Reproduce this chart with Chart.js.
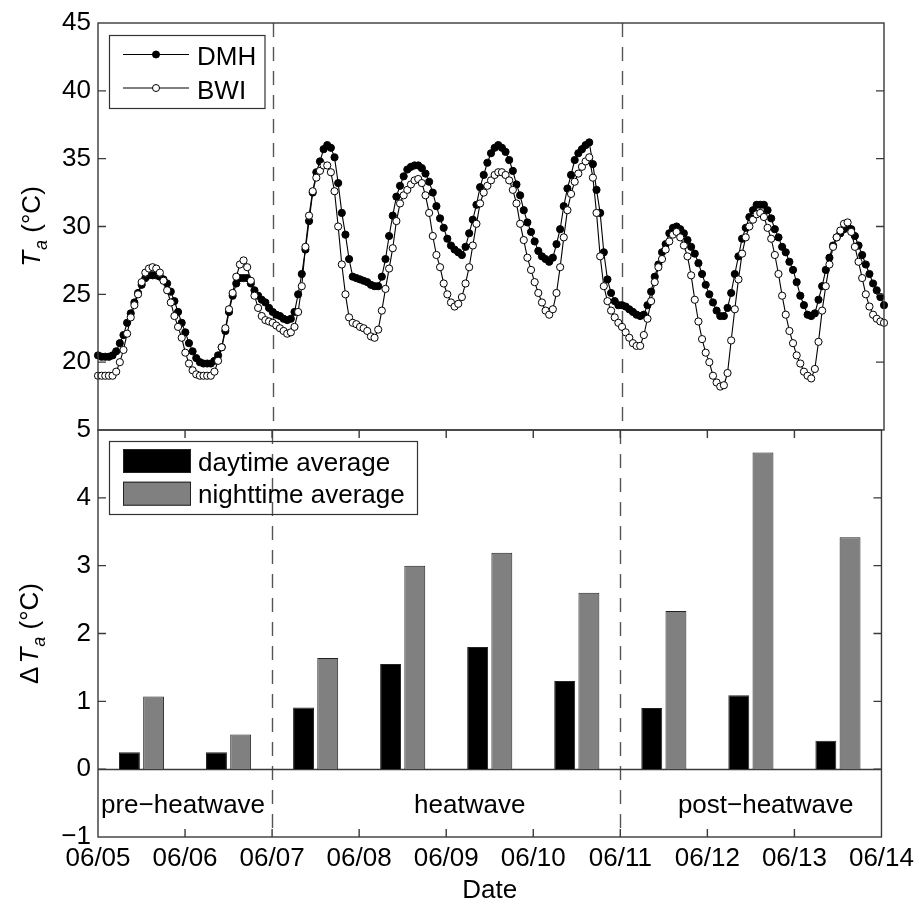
<!DOCTYPE html>
<html><head><meta charset="utf-8">
<script src="https://cdn.jsdelivr.net/npm/chart.js@4.4.1/dist/chart.umd.min.js"></script>
<style>
html,body{margin:0;padding:0;background:#fff;}
#wrap{position:relative;width:920px;height:899px;overflow:hidden;background:#fff;}
#bot{position:absolute;left:0;top:400px;}
#top{position:absolute;left:0;top:0;}
</style></head><body>
<div id="wrap">
<canvas id="bot" width="920" height="499"></canvas>
<canvas id="top" width="920" height="470"></canvas>
</div>
<script>
// ---------------- data ----------------
const tickLabels = ['06/05','06/06','06/07','06/08','06/09','06/10','06/11','06/12','06/13','06/14'];
const days = ['06/05','06/06','06/07','06/08','06/09','06/10','06/11','06/12','06/13'];
// hourly air temperature (°C), 06/05 00:00 .. 06/14 00:00
const dmh = [
 20.5,20.4,20.4,20.4,20.5,20.8,21.4,22.0,22.9,23.6,24.4,25.1,25.7,26.2,26.4,26.4,26.4,26.3,26.1,25.8,25.2,24.5,23.7,22.9,
 22.2,21.4,20.8,20.3,20.0,19.9,19.9,19.9,20.1,20.5,21.1,22.3,23.7,24.9,25.8,26.2,26.2,26.2,25.8,25.3,24.9,24.6,24.4,24.0,
 23.7,23.5,23.4,23.2,23.1,23.2,23.7,25.0,26.5,28.3,30.4,32.5,34.0,34.8,35.7,36.0,35.8,35.1,33.2,31.0,29.4,27.6,26.3,26.2,
 26.1,26.0,25.9,25.7,25.6,25.6,26.3,27.6,29.3,30.8,32.2,33.0,33.7,34.2,34.4,34.5,34.5,34.3,33.9,33.3,32.5,31.5,30.6,29.9,
 29.1,28.6,28.3,28.1,27.9,28.5,29.5,30.5,31.6,32.9,33.8,34.7,35.4,35.8,36.0,35.8,35.5,34.9,34.1,33.1,32.3,31.2,30.3,29.6,
 28.9,28.2,27.8,27.6,27.4,27.7,28.7,29.8,31.5,32.8,33.8,34.9,35.4,35.7,36.0,36.2,34.6,32.7,31.0,28.1,26.1,25.1,24.5,24.2,
 24.2,24.1,23.9,23.7,23.5,23.4,23.5,24.2,25.2,26.3,27.2,28.1,28.7,29.5,29.9,30.0,29.8,29.5,29.0,28.5,28.0,27.3,26.5,25.7,
 25.0,24.4,23.8,23.4,23.4,24.0,25.1,26.5,27.8,29.1,29.9,30.7,31.2,31.6,31.6,31.6,31.2,30.6,29.8,29.2,28.5,28.1,27.4,26.8,
 25.9,24.9,24.2,23.5,23.4,23.6,24.6,25.6,26.8,27.7,28.6,29.2,29.5,29.8,30.0,29.8,29.3,28.6,27.9,27.2,26.5,25.8,25.3,24.8,
 24.2
];
const bwi = [
 19.0,19.0,19.0,19.0,19.0,19.3,20.0,20.9,22.1,23.3,24.2,25.0,25.9,26.6,26.9,27.0,26.9,26.6,26.0,25.3,24.4,23.4,22.6,21.8,
 20.7,19.9,19.4,19.1,19.0,19.0,19.0,19.0,19.3,20.1,21.1,22.5,23.9,25.1,26.3,27.2,27.5,27.0,26.0,24.9,24.0,23.4,23.1,23.0,
 22.9,22.7,22.5,22.3,22.1,22.2,22.6,23.7,25.6,28.5,30.8,32.6,33.6,34.1,34.5,34.5,34.0,32.6,30.0,27.2,25.0,23.3,22.9,22.8,
 22.6,22.5,22.3,21.9,21.8,22.4,23.8,25.4,26.9,28.4,30.4,31.7,32.3,32.7,33.1,33.4,33.5,33.2,32.3,31.0,29.3,27.9,27.0,25.8,
 25.0,24.4,24.1,24.3,24.8,25.8,27.0,28.6,30.2,31.7,32.5,33.0,33.4,33.8,34.0,34.0,33.8,33.4,32.7,31.7,30.2,29.0,27.7,26.8,
 25.9,25.1,24.4,23.8,23.5,23.9,25.1,27.0,29.2,31.2,32.4,33.3,33.9,34.4,34.8,35.1,33.6,31.0,27.8,25.6,24.5,23.8,23.3,22.9,
 22.6,22.2,21.8,21.4,21.2,21.2,22.0,23.2,24.5,25.9,27.0,27.6,28.3,28.9,29.4,29.6,29.2,28.6,27.8,26.4,24.6,23.0,21.7,20.7,
 20.0,19.0,18.5,18.2,18.3,19.2,21.6,23.9,26.1,28.0,29.2,30.0,30.5,30.9,31.0,30.7,29.9,29.1,27.9,26.5,24.9,23.5,22.3,21.4,
 20.5,19.9,19.3,19.0,18.8,19.5,21.5,23.8,25.6,27.2,28.5,29.2,29.7,30.2,30.3,29.6,28.5,27.4,26.2,25.0,24.1,23.5,23.2,23.0,
 22.9
];
// DMH - BWI difference averages (°C)
const daytime   = [0.25,0.25,0.91,1.55,1.80,1.30,0.90,1.09,0.42];
const nighttime = [1.07,0.51,1.64,3.00,3.19,2.60,2.33,4.67,3.42];
const periodNames = ['pre\u2212heatwave','heatwave','post\u2212heatwave'];
const periodBreaks = [2, 6];          // day index of 06/07 and 06/11
const topTicksY = [15,20,25,30,35,40,45];
const botTicksY = [-1,0,1,2,3,4,5];

// ---------------- style ----------------
const FONT = "'Liberation Sans', Arial, Helvetica, sans-serif";
const FS = 26;
const AXIS = '#3a3a3a';
const hoursPerDay = 24;

function drawFrame(chart, xTicks) {
  const ctx = chart.ctx;
  const {left, right, top, bottom} = chart.chartArea;
  const xs = chart.scales.x, ys = chart.scales.y;
  const TL = 8;
  ctx.save();
  ctx.strokeStyle = AXIS; ctx.lineWidth = 1.4;
  ctx.strokeRect(left, top, right - left, bottom - top);
  ctx.beginPath();
  ys.ticks.forEach(t => {
    const y = ys.getPixelForValue(t.value);
    if (y <= top + 1 || y >= bottom - 1) return;
    ctx.moveTo(left, y); ctx.lineTo(left + TL, y);
    ctx.moveTo(right, y); ctx.lineTo(right - TL, y);
  });
  if (xTicks) {
    xs.ticks.forEach(t => {
      const x = xs.getPixelForValue(t.value);
      if (x <= left + 1 || x >= right - 1) return;
      ctx.moveTo(x, bottom); ctx.lineTo(x, bottom - TL);
      ctx.moveTo(x, top); ctx.lineTo(x, top + TL);
    });
  }
  ctx.stroke();
  ctx.restore();
}
function drawDashes(chart) {
  const ctx = chart.ctx;
  const {top, bottom} = chart.chartArea;
  const xs = chart.scales.x;
  ctx.save();
  ctx.strokeStyle = '#555'; ctx.lineWidth = 1.4; ctx.setLineDash([14, 10]);
  periodBreaks.forEach(d => {
    const x = Math.round(xs.getPixelForValue(d)) + 0.5;
    ctx.beginPath(); ctx.moveTo(x, top); ctx.lineTo(x, bottom); ctx.stroke();
  });
  ctx.restore();
}
function drawYTitle(ctx, x, y, delta) {
  ctx.save();
  ctx.translate(x, y); ctx.rotate(-Math.PI / 2);
  ctx.fillStyle = '#000'; ctx.textBaseline = 'alphabetic';
  const fN = FS + 'px ' + FONT, fI = 'italic ' + FS + 'px ' + FONT, fS = 'italic 18px ' + FONT;
  const parts = [];
  if (delta) parts.push({t: '\u0394', f: fN, dy: 0, gap: 3});
  parts.push({t: 'T', f: fI, dy: 0, gap: 1});
  parts.push({t: 'a', f: fS, dy: 7, gap: 0});
  parts.push({t: ' (\u00B0C)', f: fN, dy: 0, gap: 0});
  let w = 0;
  parts.forEach(p => { ctx.font = p.f; p.w = ctx.measureText(p.t).width; w += p.w + p.gap; });
  let cx = -w / 2;
  parts.forEach(p => { ctx.font = p.f; ctx.fillText(p.t, cx, p.dy); cx += p.w + p.gap; });
  ctx.restore();
}

const topPlugin = {
  id: 'topDeco',
  beforeDatasetsDraw(chart) { drawDashes(chart); },
  afterDraw(chart) {
    const ctx = chart.ctx;
    const {left, top, bottom} = chart.chartArea;
    drawFrame(chart, false);
    // legend
    const ds = chart.data.datasets;
    ctx.save();
    ctx.strokeStyle = '#333'; ctx.lineWidth = 1.2;
    ctx.strokeRect(left + 11.5, top + 12.5, 155.5, 73);
    ds.forEach((d, i) => {
      const y = top + 31.5 + i * 33.5;
      ctx.strokeStyle = '#000'; ctx.lineWidth = 1;
      ctx.beginPath(); ctx.moveTo(left + 25, y); ctx.lineTo(left + 91, y); ctx.stroke();
      ctx.beginPath(); ctx.arc(left + 58, y, 3.5, 0, Math.PI * 2);
      ctx.fillStyle = d.pointBackgroundColor; ctx.fill(); ctx.stroke();
      ctx.fillStyle = '#000'; ctx.font = FS + 'px ' + FONT; ctx.textBaseline = 'alphabetic';
      ctx.fillText(d.label, left + 99, y + 10.5);
    });
    ctx.restore();
    drawYTitle(ctx, 40, (top + bottom) / 2, false);
  }
};

const botPlugin = {
  id: 'botDeco',
  beforeDatasetsDraw(chart) {
    drawDashes(chart);
    const ctx = chart.ctx, ys = chart.scales.y;
    const {left, right} = chart.chartArea;
    const y0 = Math.round(ys.getPixelForValue(0)) + 0.5;
    ctx.save(); ctx.strokeStyle = AXIS; ctx.lineWidth = 1.4;
    ctx.beginPath(); ctx.moveTo(left, y0); ctx.lineTo(right, y0); ctx.stroke(); ctx.restore();
  },
  afterDraw(chart) {
    const ctx = chart.ctx;
    const {left, right, top, bottom} = chart.chartArea;
    const xs = chart.scales.x;
    drawFrame(chart, true);
    // legend
    const ds = chart.data.datasets;
    ctx.save();
    ctx.strokeStyle = '#333'; ctx.lineWidth = 1.2;
    ctx.strokeRect(left + 11.5, top + 11.5, 308, 73);
    ds.forEach((d, i) => {
      const y = top + 31 + i * 32.7;
      ctx.fillStyle = d.backgroundColor;
      ctx.fillRect(left + 25, y - 12, 68, 24);
      ctx.strokeStyle = '#222'; ctx.lineWidth = 1;
      ctx.strokeRect(left + 25.5, y - 11.5, 67, 23);
      ctx.fillStyle = '#000'; ctx.font = FS + 'px ' + FONT; ctx.textBaseline = 'alphabetic';
      ctx.fillText(d.label, left + 100, y + 9.5);
    });
    // period labels
    ctx.font = FS + 'px ' + FONT; ctx.fillStyle = '#000';
    const ly = bottom - 24;
    ctx.textAlign = 'left';
    ctx.fillText(periodNames[0], xs.getPixelForValue(0) + 3, ly);
    ctx.textAlign = 'center';
    ctx.fillText(periodNames[1], xs.getPixelForValue(4.27), ly);
    ctx.fillText(periodNames[2], xs.getPixelForValue(7.67), ly);
    // x title
    ctx.fillText('Date', (left + right) / 2, bottom + 61);
    ctx.restore();
    drawYTitle(ctx, 38, (top + bottom) / 2, true);
  }
};

const tickFont = {family: FONT, size: FS};

new Chart(document.getElementById('top'), {
  type: 'line',
  data: {
    datasets: [
      {label: 'DMH', data: dmh.map((v, i) => ({x: i / hoursPerDay, y: v})),
       borderColor: '#000', borderWidth: 1.1, pointRadius: 3.6, pointBorderWidth: 1,
       pointBackgroundColor: '#000', pointBorderColor: '#000', order: 1, clip: false, tension: 0},
      {label: 'BWI', data: bwi.map((v, i) => ({x: i / hoursPerDay, y: v})),
       borderColor: '#000', borderWidth: 1.1, pointRadius: 3.6, pointBorderWidth: 1,
       pointBackgroundColor: '#fff', pointBorderColor: '#000', order: 0, clip: false, tension: 0}
    ]
  },
  options: {
    responsive: false, animation: false,
    layout: {padding: {top: 23, right: 36, bottom: 40, left: 0}},
    plugins: {legend: {display: false}, tooltip: {enabled: false}},
    scales: {
      x: {type: 'linear', min: 0, max: 9, display: false, offset: false,
          ticks: {stepSize: 1}},
      y: {min: 15, max: 45, afterFit: s => { s.width = 98; },
          afterBuildTicks: s => { s.ticks = topTicksY.map(v => ({value: v})); },
          grid: {display: false, drawTicks: false}, border: {display: false},
          ticks: {color: '#000', font: tickFont, padding: 7,
                  callback: v => (v === 15 ? '' : String(v))}}
    }
  },
  plugins: [topPlugin]
});

new Chart(document.getElementById('bot'), {
  type: 'bar',
  data: {
    datasets: [
      {label: 'daytime average', data: daytime.map((v, i) => ({x: i + 0.5, y: v})),
       backgroundColor: '#000', borderColor: '#222', borderWidth: 1,
       categoryPercentage: 0.556, barPercentage: 0.864},
      {label: 'nighttime average', data: nighttime.map((v, i) => ({x: i + 0.5, y: v})),
       backgroundColor: '#808080', borderColor: '#222', borderWidth: 1,
       categoryPercentage: 0.556, barPercentage: 0.864}
    ]
  },
  options: {
    responsive: false, animation: false,
    layout: {padding: {top: 30, right: 36, bottom: 0, left: 0}},
    plugins: {legend: {display: false}, tooltip: {enabled: false}},
    scales: {
      x: {type: 'linear', min: 0, max: 9, offset: false,
          afterFit: s => { s.height = 62; },
          afterBuildTicks: s => { s.ticks = tickLabels.map((t, i) => ({value: i})); },
          grid: {display: false, drawTicks: false}, border: {display: false},
          ticks: {color: '#000', font: tickFont, padding: 6, maxRotation: 0, autoSkip: false,
                  callback: v => tickLabels[Math.round(v)] || ''}},
      y: {min: -1, max: 5, afterFit: s => { s.width = 98; },
          afterBuildTicks: s => { s.ticks = botTicksY.map(v => ({value: v})); },
          grid: {display: false, drawTicks: false}, border: {display: false},
          ticks: {color: '#000', font: tickFont, padding: 7,
                  callback: v => (v < 0 ? '\u2212' + Math.abs(v) : String(v))}}
    }
  },
  plugins: [botPlugin]
});
</script>
</body></html>
